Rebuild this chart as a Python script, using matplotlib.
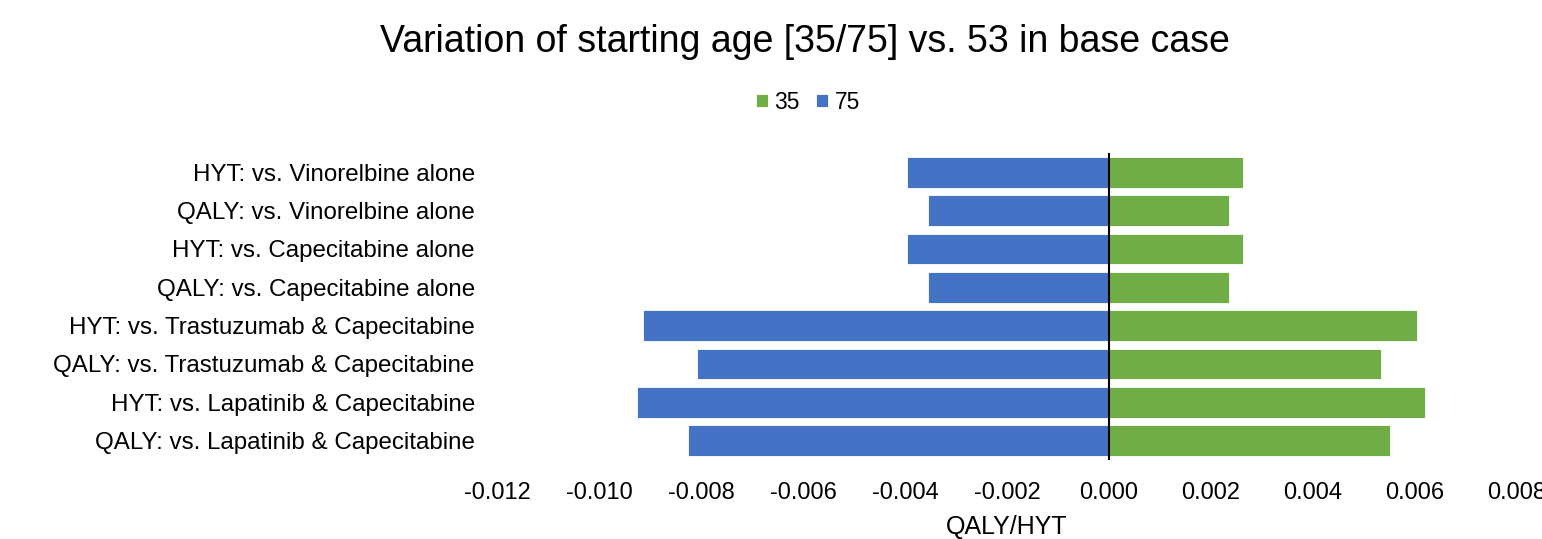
import numpy as np
import matplotlib.pyplot as plt

plt.rcParams['font.family'] = ['Liberation Sans', 'DejaVu Sans']

labels = [
    'HYT: vs. Vinorelbine alone',
    'QALY: vs. Vinorelbine alone',
    'HYT: vs. Capecitabine alone',
    'QALY: vs. Capecitabine alone',
    'HYT: vs. Trastuzumab & Capecitabine',
    'QALY: vs. Trastuzumab & Capecitabine',
    'HYT: vs. Lapatinib & Capecitabine',
    'QALY: vs. Lapatinib & Capecitabine',
]
age_35 = [0.00263, 0.00235, 0.00263, 0.00235, 0.00604, 0.00533, 0.00620, 0.00551]
age_75 = [-0.00396, -0.00355, -0.00396, -0.00355, -0.00914, -0.00808, -0.00925, -0.00825]
xticks = [-0.012, -0.010, -0.008, -0.006, -0.004, -0.002, 0.0, 0.002, 0.004, 0.006, 0.008]

fig = plt.figure(figsize=(15.42, 5.39), dpi=100)
ax = fig.add_axes([0.3223, 0.147, 0.6615, 0.569])

y = np.arange(len(labels))
ax.barh(y, age_35, height=0.8, color='#70AD47', edgecolor='white', linewidth=0.6, label='35')
ax.barh(y, age_75, height=0.8, color='#4472C4', edgecolor='white', linewidth=0.6, label='75')
ax.axvline(0, color='black', linewidth=1.5)

ax.set_ylim(len(labels) - 0.5, -0.5)
ax.set_yticks(y)
ax.set_yticklabels(labels, fontsize=17.4)
ax.set_xlim(-0.012, 0.008)
ax.set_xticks(xticks)
ax.set_xticklabels([f'{t:.3f}' for t in xticks], fontsize=17)
ax.tick_params(axis='both', length=0)
ax.tick_params(axis='x', pad=16)
ax.tick_params(axis='y', pad=16)
for s in ax.spines.values():
    s.set_visible(False)
ax.set_xlabel('QALY/HYT', fontsize=18, labelpad=8)

fig.text(0.522, 0.922, 'Variation of starting age [35/75] vs. 53 in base case',
         ha='center', va='center', fontsize=27)
fig.legend(loc='center', bbox_to_anchor=(0.524, 0.81), ncol=2, frameon=False,
           fontsize=16.5, handlelength=0.5, handleheight=0.5, handletextpad=0.3,
           columnspacing=0.7)

fig.savefig('out.png', dpi=100)
